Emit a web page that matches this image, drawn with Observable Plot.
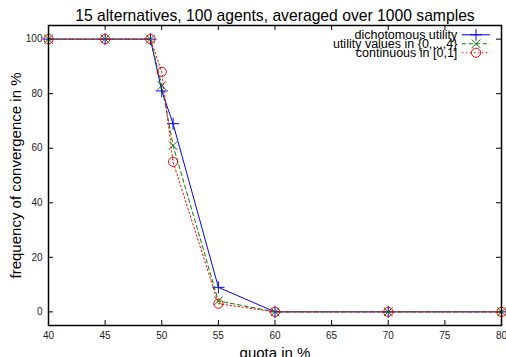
<!DOCTYPE html>
<html><head><meta charset="utf-8">
<script src="https://cdn.jsdelivr.net/npm/d3@7"></script>
<script src="https://cdn.jsdelivr.net/npm/@observablehq/plot@0.6"></script>
<style>body{margin:0;background:#fff}svg{font-family:"Liberation Sans",Arial,sans-serif}</style>
</head><body><div id="chart"></div>
<script>
const quota = [40, 45, 49, 50, 51, 55, 60, 70, 80];
const dichotomous = [100, 100, 100, 81, 69, 9, 0, 0, 0];
const utilityValues = [100, 100, 100, 83, 61, 4, 0, 0, 0];
const continuous = [100, 100, 100, 88, 55, 3, 0, 0, 0];
const seriesNames = ["dichotomous utility", "utility values in {0,...,4}", "continuous in [0,1]"];
const xTicks = [40, 45, 50, 55, 60, 65, 70, 75, 80];
const yTicks = [0, 20, 40, 60, 80, 100];
const title = "15 alternatives, 100 agents, averaged over 1000 samples";
const xLabel = "quota in %";
const yLabel = "frequency of convergence in %";

const colors = ["#0000ff", "#008000", "#ff0000"];
const dashes = [null, "4,3", "1.5,2.5"];
const symbols = ["plus", "times", "circle"];
const symR = [4, 4, 4.6];
const allSeries = [dichotomous, utilityValues, continuous];
const rows = [];
allSeries.forEach((vals, s) => quota.forEach((q, i) => rows.push({series: seriesNames[s], x: q, y: vals[i], s})));

const W = 506, H = 357, mL = 48, mR = 5, mT = 25, mB = 32;
const fw = W - mL - mR, fh = H - mT - mB;

const marks = [];
allSeries.forEach((vals, s) => {
  const d = rows.filter(r => r.s === s);
  marks.push(Plot.line(d, {x: "x", y: "y", stroke: colors[s], strokeWidth: 1, strokeDasharray: dashes[s]}));
  marks.push(Plot.dot(d, {x: "x", y: "y", stroke: colors[s], symbol: symbols[s], r: symR[s], strokeWidth: 1}));
});
// legend (inside top-right)
const legY = [101.6, 98.3, 95.0];
seriesNames.forEach((name, s) => {
  marks.push(Plot.text([name], {x: 76.1, y: legY[s], text: d => d, textAnchor: "end", fontSize: 12.5, fill: "#000"}));
  marks.push(Plot.link([0], {x1: 76.5, x2: 79.0, y1: legY[s], y2: legY[s], stroke: colors[s], strokeWidth: 1, strokeDasharray: dashes[s]}));
  marks.push(Plot.dot([0], {x: 77.75, y: legY[s], stroke: colors[s], symbol: symbols[s], r: symR[s], strokeWidth: 1}));
});

const chart = Plot.plot({
  width: W, height: H,
  marginLeft: mL, marginRight: mR, marginTop: mT, marginBottom: mB,
  style: {fontFamily: "Liberation Sans, Arial, sans-serif", background: "#fff"},
  x: {domain: [40, 80]},
  y: {domain: [-5, 105]},
  marks: [
    Plot.axisX({ticks: xTicks, tickSize: 0, tickPadding: 6, fontSize: 10, label: null, color: "#222"}),
    Plot.axisY({ticks: yTicks, tickSize: 0, tickPadding: 6, fontSize: 10, label: null, color: "#222"}),
    Plot.ruleX(xTicks, {insetTop: fh - 5, stroke: "#000", strokeWidth: 1}),
    Plot.ruleX(xTicks, {insetBottom: fh - 5, stroke: "#000", strokeWidth: 1}),
    Plot.ruleY(yTicks, {insetRight: fw - 5, stroke: "#000", strokeWidth: 1}),
    Plot.ruleY(yTicks, {insetLeft: fw - 5, stroke: "#000", strokeWidth: 1}),
    ...marks,
    Plot.frame({stroke: "#000", strokeWidth: 1.5}),
    Plot.text([title], {frameAnchor: "top", text: d => d, dy: -16, fontSize: 15.7, fill: "#000"}),
    Plot.text([xLabel], {frameAnchor: "bottom", text: d => d, dy: 32, fontSize: 15, fill: "#000"}),
    Plot.text([yLabel], {frameAnchor: "left", text: d => d, dx: -32, rotate: -90, textAnchor: "middle", fontSize: 15, fill: "#000"})
  ]
});
document.getElementById("chart").append(chart);
</script></body></html>
